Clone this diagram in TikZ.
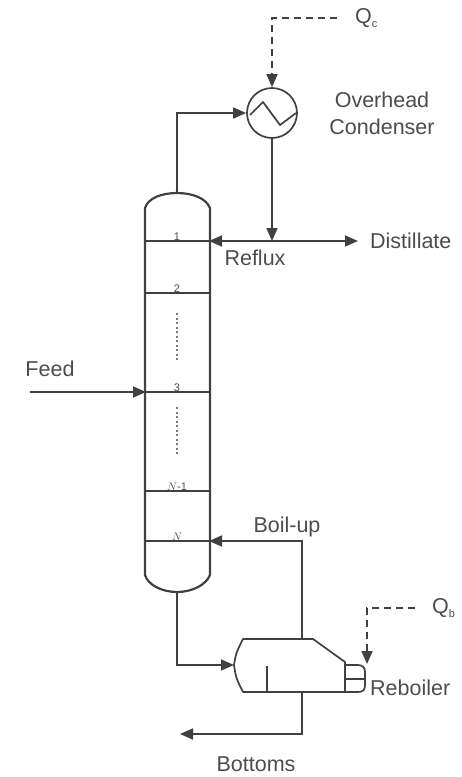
\documentclass[tikz,border=0pt]{standalone}
\usepackage{fontspec}
\setmainfont{Liberation Sans}
\usetikzlibrary{arrows.meta}
\tikzset{
  unit/.style={draw=linegray, line width=1.7pt, line join=round},
  flow/.style={draw=linegray, line width=1.7pt, -{Stealth[length=13pt,width=11pt,inset=0pt]}},
  heat/.style={flow, dashed, dash pattern=on 7pt off 5pt},
  lbl/.style={text=textgray, font=\fontsize{21.5}{25}\selectfont, inner sep=0pt},
  traylbl/.style={text=textgray, font=\fontsize{11}{12}\selectfont, inner sep=0pt, anchor=south},
  dotted line/.style={draw=linegray!70, line width=1.5pt, dash pattern=on 2pt off 2.5pt}
}
\definecolor{linegray}{gray}{0.25}
\definecolor{textgray}{gray}{0.3}
\begin{document}
\begin{tikzpicture}[x=1pt,y=-1pt]
\useasboundingbox (0,0) rectangle (462,777);

% column shell
\coordinate (coltop) at (177,193);
\coordinate (colbot) at (177,592);
\draw[unit, line width=2.2pt] (145,208) .. controls (148,198) and (162,193) .. (coltop)
   .. controls (192,193) and (206,198) .. (210,208) -- (210,575)
   .. controls (206,585) and (192,592) .. (colbot)
   .. controls (162,592) and (148,585) .. (145,575) -- cycle;

% trays
\foreach \name/\ypos/\tray in {a/241/1, b/293/2, c/392/3, d/491/{$N$-1}, e/541/$N$}{
  \coordinate (w\name) at (146,\ypos);
  \coordinate (e\name) at (209,\ypos);
  \draw[unit, line width=1.3pt] (w\name) -- (e\name);
  \node[traylbl] (tray\name) at (177,\ypos) {\tray};
}
\draw[dotted line] (177,313) -- (177,362);
\draw[dotted line] (177,407) -- (177,455);

% condenser
\node[circle, unit, minimum size=50pt, inner sep=0pt] (cond) at (272,113) {};
\draw[unit] (250,115) -- (263,102) -- (280,125) -- (296,113);
\coordinate (split) at (272,241);
\draw[flow] (coltop) |- (cond.west);
\draw[flow] (cond.south) -- (split);
\draw[flow] (split) -- (ea);
\node[lbl, anchor=west] (dist) at (370,241) {Distillate};
\draw[flow] (split) -- ([xshift=-12pt]dist.west);
\node[lbl, anchor=west] (qc) at (355,18) {Q\raisebox{-4pt}{\fontsize{11}{11}\selectfont c}};
\draw[heat, shorten <=18pt] (qc.west) -| (cond.north);

% reboiler
\coordinate (rbin) at (234,665);
\coordinate (rbtop) at (302,639);
\coordinate (rbbot) at (302,692);
\coordinate (tubetop) at (345,665);
\draw[unit] (rbin) .. controls (236,653) .. (243,639) -- (313,639) -- (345,662) -- (345,692) -- (243,692) .. controls (236,678) .. (rbin);
\draw[unit] (267,666) -- (267,692);
\draw[unit] (tubetop) -- (358,665) .. controls (363,665) and (365,668) .. (365,672)
   -- (365,685) .. controls (365,690) and (363,692) .. (358,692) -- (345,692);
\draw[unit] (345,679) -- (365,679);
\draw[flow] (colbot) |- (rbin);
\draw[flow] (rbtop) |- (ee);
\coordinate (botend) at (180,734);
\draw[flow] (rbbot) |- (botend);
\node[lbl, anchor=west] (qb) at (432,608) {Q\raisebox{-4pt}{\fontsize{11}{11}\selectfont b}};
\coordinate (rbheat) at (367,664);
\draw[heat, shorten <=17pt] (qb.west) -| (rbheat);

% feed
\node[lbl] (feedlbl) at (50,369) {Feed};
\coordinate (feedin) at (30,392);
\draw[flow] (feedin) -- (wc);

% labels
\node[lbl] (over) at (382,100) {Overhead};
\node[lbl] (condlbl) at (382,127) {Condenser};
\node[lbl] (reflux) at (255,258) {Reflux};
\node[lbl] (boil) at (287,527) {Boil-up};
\node[lbl, anchor=west] (reb) at (370,688) {Reboiler};
\node[lbl] (bott) at (256,764) {Bottoms};
\end{tikzpicture}
\end{document}
